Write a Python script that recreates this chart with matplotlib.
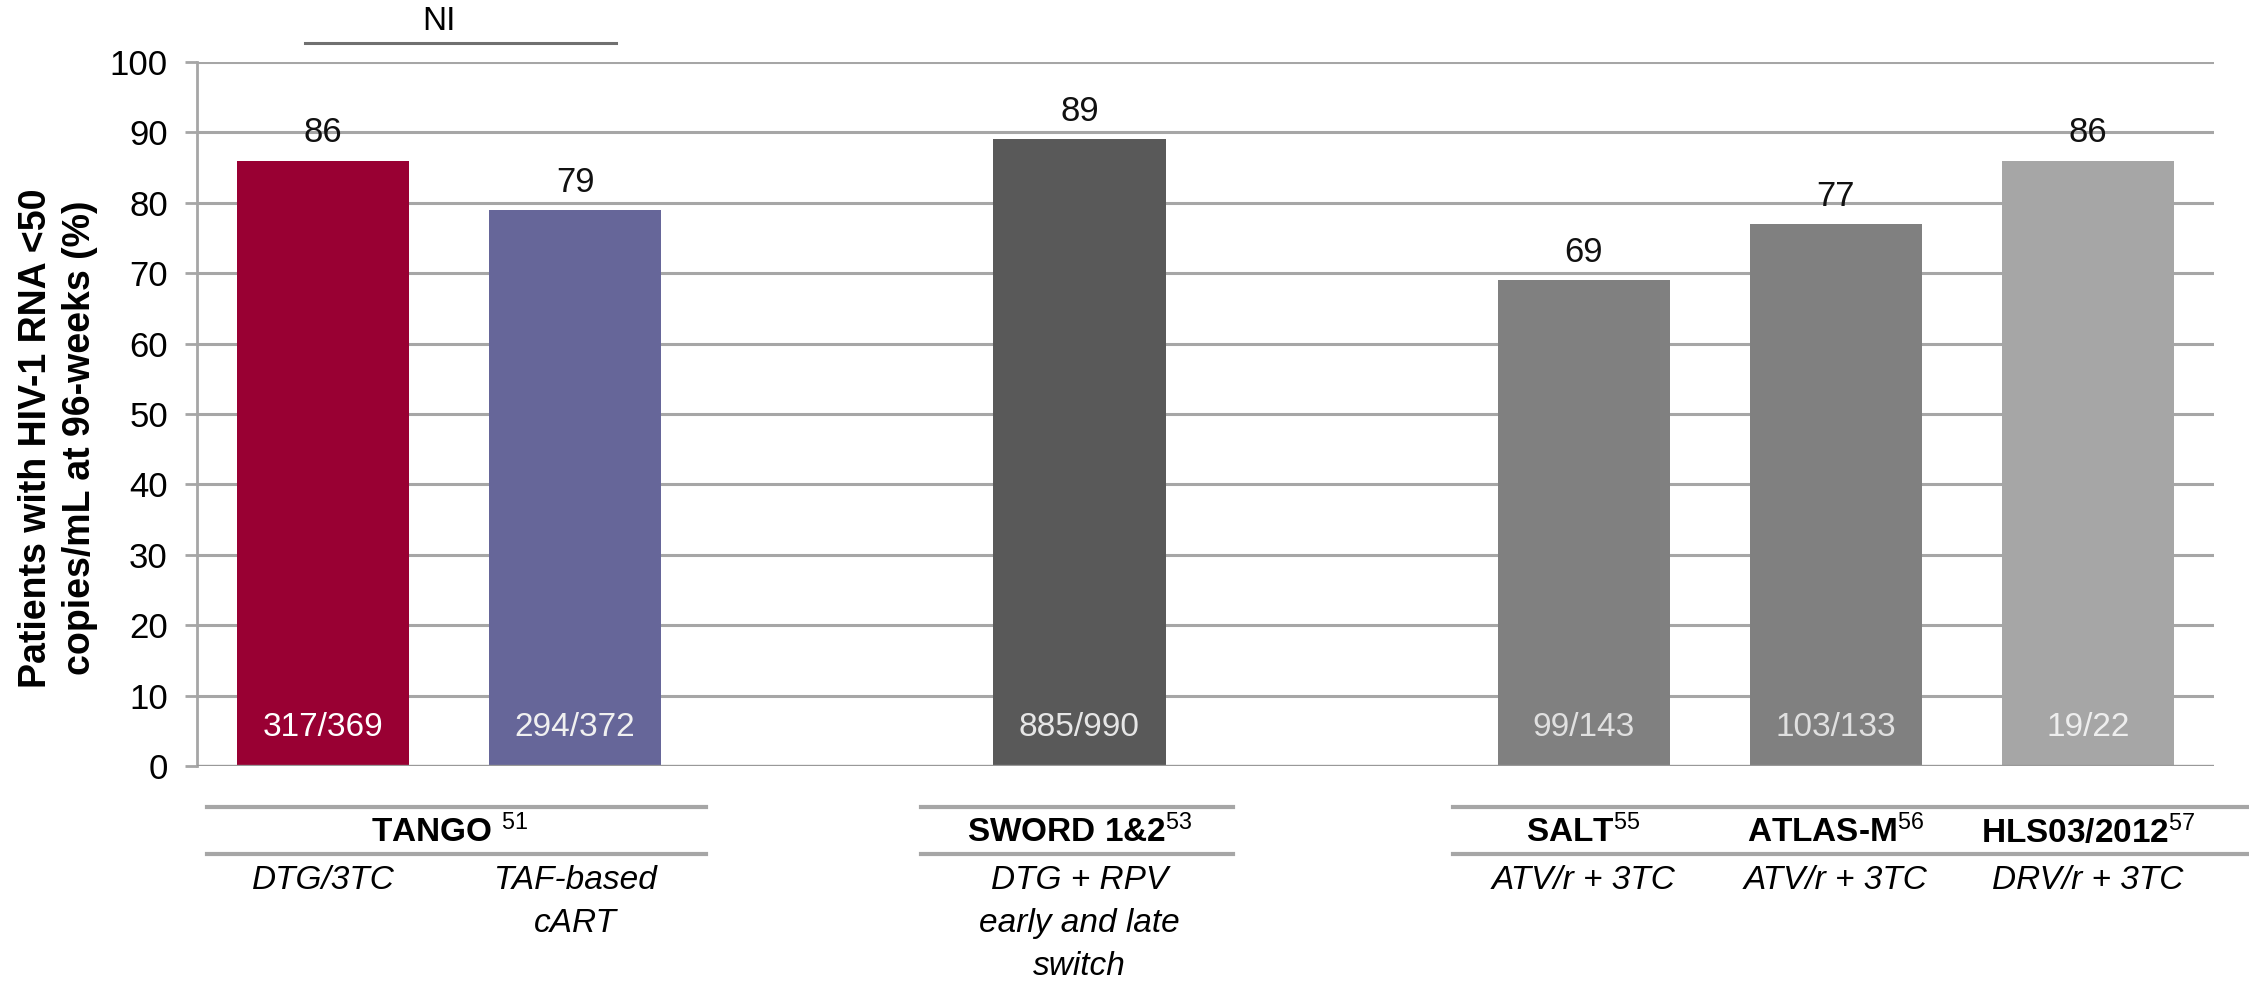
import matplotlib
matplotlib.use("Agg")
import matplotlib.pyplot as plt
from matplotlib.transforms import blended_transform_factory
from matplotlib.lines import Line2D

# ---- data ----
values = [86, 79, 89, 69, 77, 86]
value_labels = ["86", "79", "89", "69", "77", "86"]
counts = ["317/369", "294/372", "885/990", "99/143", "103/133", "19/22"]
treatments = ["DTG/3TC", "TAF-based\ncART", "DTG + RPV\nearly and late\nswitch",
              "ATV/r + 3TC", "ATV/r + 3TC", "DRV/r + 3TC"]
studies = ["TANGO", "SWORD 1&2", "SALT", "ATLAS-M", "HLS03/2012"]
study_refs = ["51", "53", "55", "56", "57"]
yticks = [0, 10, 20, 30, 40, 50, 60, 70, 80, 90, 100]
ylabel = "Patients with HIV-1 RNA <50\ncopies/mL at 96-weeks (%)"

# ---- layout / style ----
positions = [0.5, 1.5, 3.5, 5.5, 6.5, 7.5]
study_pos = [1.0, 3.5, 5.5, 6.5, 7.5]
study_sep = [" ", "", "", "", ""]
colors = ["#990033", "#666699", "#595959", "#808080", "#808080", "#a6a6a6"]
count_colors = ["#ffffff", "#f0f0f0", "#e6e6e6", "#e0e0e0", "#e0e0e0", "#eeeeee"]
grid_c = "#a6a6a6"

plt.rcParams["font.family"] = ["Liberation Sans", "DejaVu Sans"]
plt.rcParams["mathtext.fontset"] = "custom"
plt.rcParams["mathtext.rm"] = "Liberation Sans"
plt.rcParams["mathtext.it"] = "Liberation Sans:italic"
plt.rcParams["mathtext.bf"] = "Liberation Sans:bold"

W, H = 2249, 983
fig = plt.figure(figsize=(W / 100, H / 100), dpi=100)
ax = fig.add_axes([197 / W, 1 - 766 / H, (2214 - 197) / W, (766 - 62) / H])

ax.set_xlim(0, 8.0)
ax.set_ylim(0, 100)
ax.set_yticks(yticks)
ax.set_yticklabels([str(t) for t in yticks], fontsize=25)
ax.tick_params(axis="y", length=9, width=2, color=grid_c, pad=12)
ax.set_xticks([])
for y in yticks[1:]:
    ax.axhline(y, color=grid_c, lw=2.2, zorder=0)
for s in ["top", "right", "bottom"]:
    ax.spines[s].set_visible(False)
ax.spines["left"].set_color(grid_c)
ax.spines["left"].set_linewidth(2)
ax.axhline(0, color="#999999", lw=2.4, zorder=3)

bars = ax.bar(positions, values, width=0.683, color=colors, zorder=2)

for p, v, lab, c, cc in zip(positions, values, value_labels, counts, count_colors):
    ax.annotate(lab, (p, v), xytext=(0, 8), textcoords="offset points",
                ha="center", va="bottom", fontsize=25, color="#111111")
    ax.text(p, 5.5, c, ha="center", va="center", fontsize=24, color=cc)

fig.text(58 / W, 1 - 438 / H, ylabel, rotation=90, ha="center", va="center",
         multialignment="center", fontsize=27, fontweight="bold", linespacing=1.3)

# NI bracket
ax.add_line(Line2D([0.43, 1.66], [102.7, 102.7], color="#707070", lw=2.2, clip_on=False))
ax.text(0.96, 103.6, "NI", ha="center", va="bottom", fontsize=24, clip_on=False)

# bottom group labels
bt = blended_transform_factory(ax.transData, fig.transFigure)
def fy(py):
    return 1 - py / H

line_spans = [(0.04, 2.02), (2.87, 4.11), (4.98, 8.3)]
for x0, x1 in line_spans:
    for py in (807, 854):
        fig.add_artist(Line2D([x0, x1], [fy(py), fy(py)], transform=bt,
                              color=grid_c, lw=3, clip_on=False))

for sp, name, ref, sep in zip(study_pos, studies, study_refs, study_sep):
    fig.text(sp, fy(832), name + sep + "$^{" + ref + "}$", transform=bt,
             ha="center", va="center", fontsize=24, fontweight="bold")

for p, t in zip(positions, treatments):
    fig.text(p, fy(865), t, transform=bt, ha="center", va="top",
             fontsize=24, style="italic", linespacing=1.5)

fig.savefig("out.png", dpi=100)
